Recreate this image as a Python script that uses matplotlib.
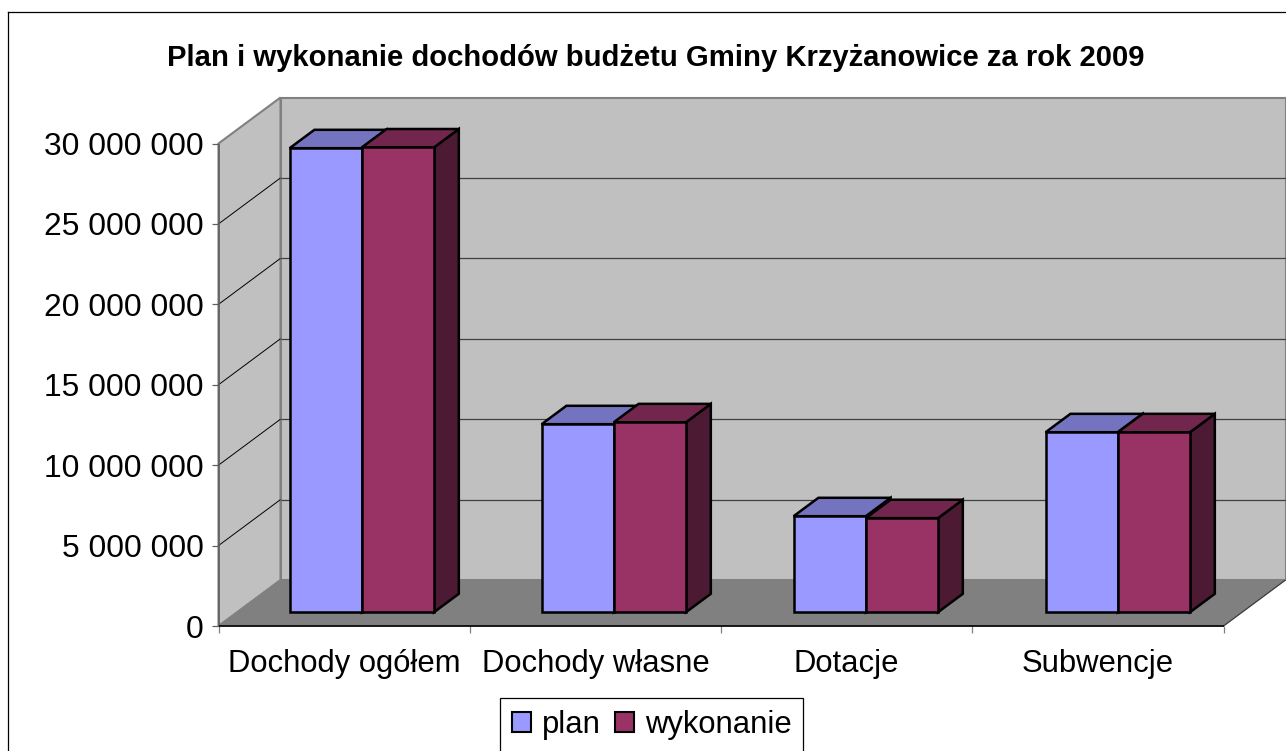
import matplotlib
matplotlib.use("Agg")
import matplotlib.pyplot as plt
from matplotlib.patches import Polygon, Patch
from matplotlib.ticker import FuncFormatter

plt.rcParams['font.family'] = ['Liberation Sans', 'DejaVu Sans']

title = "Plan i wykonanie dochodów budżetu Gminy Krzyżanowice za rok 2009"
categories = ["Dochody ogółem", "Dochody własne", "Dotacje", "Subwencje"]
plan = [28850000, 11690000, 5970000, 11190000]
wykonanie = [28900000, 11810000, 5850000, 11190000]
y_ticks = [0, 5000000, 10000000, 15000000, 20000000, 25000000, 30000000]

W, H = 1286, 751
# oblique projection of the depth axis, in data units
DX = 62 / 251.25
DY = 2860000
BAR_W = 72.2 / 251.25
D0, D1 = 0.30, 0.70

plan_col, plan_top = "#9999FF", "#7373BF"
wyk_col, wyk_top, wyk_side = "#993366", "#73264D", "#4D1A33"
plan_side = "#4D4D80"


def pt(x, y, d=0.0):
    return (x + d * DX, y + d * DY)


fig = plt.figure(figsize=(W / 100, H / 100), dpi=100)
ax = fig.add_axes([218.5 / W, 1 - 626 / H, 1005 / W, 482.5 / H])
ax.set_xlim(0, 4)
ax.set_ylim(0, 30000000)
for s in ax.spines.values():
    s.set_visible(False)
ax.patch.set_visible(False)


def poly(points, fc, ec, lw, z):
    ax.add_patch(Polygon(points, closed=True, facecolor=fc, edgecolor=ec, linewidth=lw,
                         zorder=z, clip_on=False, joinstyle="miter"))


def line(a, b, color, lw, z):
    ax.plot([a[0], b[0]], [a[1], b[1]], color=color, lw=lw, zorder=z, clip_on=False,
            solid_capstyle="butt")


top = y_ticks[-1]
# walls and floor
poly([pt(0, 0, 1), pt(4, 0, 1), pt(4, top, 1), pt(0, top, 1)], "#C0C0C0", "#808080", 1.5, 1)
poly([pt(0, 0), pt(0, top), pt(0, top, 1), pt(0, 0, 1)], "#C0C0C0", "#808080", 1.5, 1)
poly([pt(0, 0), pt(4, 0), pt(4, 0, 1), pt(0, 0, 1)], "#808080", "#808080", 0.7, 2)
for v in y_ticks[1:-1]:
    line(pt(0, v), pt(0, v, 1), "#000000", 0.7, 3)
    line(pt(0, v, 1), pt(4, v, 1), "#404040", 0.9, 3)
line(pt(4, 0), pt(4, 0, 1), "#404040", 0.9, 3)
line(pt(0, 0), pt(0, top), "#606060", 1.2, 4)
line(pt(0, 0), pt(4, 0), "#000000", 1.2, 4)


def bar(x0, val, col, topc, side, z):
    x1 = x0 + BAR_W
    poly([pt(x1, 0, D0), pt(x1, 0, D1), pt(x1, val, D1), pt(x1, val, D0)], side, "#000000", 1.8, z)
    poly([pt(x0, val, D0), pt(x1, val, D0), pt(x1, val, D1), pt(x0, val, D1)], topc, "#000000", 1.8, z)
    poly([pt(x0, 0, D0), pt(x1, 0, D0), pt(x1, val, D0), pt(x0, val, D0)], col, "#000000", 1.8, z)


for i in range(len(categories)):
    start = 0.209 + i * 1.003
    bar(start, plan[i], plan_col, plan_top, plan_side, 5 + i * 2)
    bar(start + BAR_W, wykonanie[i], wyk_col, wyk_top, wyk_side, 6 + i * 2)

ax.set_yticks(y_ticks)
ax.yaxis.set_major_formatter(FuncFormatter(lambda v, p: f"{v:,.0f}".replace(",", " ")))
ax.tick_params(axis="y", length=5, width=0.9, color="#606060", labelsize=22.9, pad=5.5)
ax.set_xticks(range(5))
ax.set_xticklabels([])
ax.set_xticks([i + 0.5 for i in range(4)], minor=True)
ax.set_xticklabels(categories, minor=True)
ax.tick_params(axis="x", which="major", length=5, width=0.9, color="#808080")
ax.tick_params(axis="x", which="minor", length=0, labelsize=22.3, pad=16.5)

fig.text(655.5 / W, 1 - 58.5 / H, title, ha="center", va="center", fontsize=21.1, fontweight="bold")

handles = [Patch(facecolor=plan_col, edgecolor="#000000", linewidth=1.5, label="plan"),
           Patch(facecolor=wyk_col, edgecolor="#000000", linewidth=1.5, label="wykonanie")]
leg = fig.legend(handles=handles, loc="lower left", bbox_to_anchor=(500 / W, 1 - 752 / H),
                 bbox_transform=fig.transFigure, ncol=2, fontsize=22.3, frameon=True, fancybox=False,
                 framealpha=1, edgecolor="#000000", handlelength=0.62, handleheight=0.62,
                 handletextpad=0.35, columnspacing=0.45, borderpad=0.38, borderaxespad=0)
leg.get_frame().set_linewidth(0.9)

# chart area border runs off the right and bottom of the image
fig.add_artist(plt.Line2D([8.0 / W, 8.0 / W], [0, 1 - 12 / H], color="#000000", lw=0.9))
fig.add_artist(plt.Line2D([8.0 / W, 1], [1 - 12 / H, 1 - 12 / H], color="#000000", lw=0.9))

fig.savefig("out.png", dpi=100)
